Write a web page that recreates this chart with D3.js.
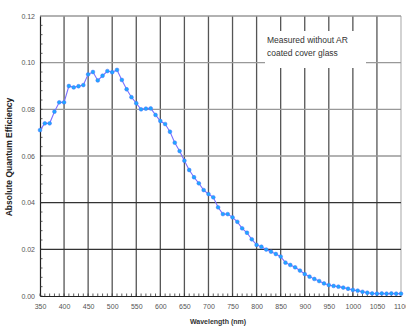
<!DOCTYPE html>
<html>
<head>
<meta charset="utf-8">
<script src="https://cdn.jsdelivr.net/npm/d3@7"></script>
<style>
  body { margin: 0; background: #fff; }
  svg { font-family: "Liberation Sans", Arial, sans-serif; }
</style>
</head>
<body>
<svg width="406" height="327"></svg>
<script>
const svg = d3.select('svg');

// wavelength (nm) every 10 nm, 350..1100
const wavelengths = d3.range(350, 1101, 10);
const efficiency = [
  0.0711, 0.0740, 0.0740, 0.0790, 0.0830, 0.0830, 0.0900, 0.0894, 0.0899, 0.0904,
  0.0950, 0.0960, 0.0924, 0.0944, 0.0964, 0.0959, 0.0969, 0.0926, 0.0886, 0.0852,
  0.0826, 0.0800, 0.0803, 0.0804, 0.0776, 0.0750, 0.0737, 0.0704, 0.0657, 0.0621,
  0.0580, 0.0540, 0.0509, 0.0483, 0.0454, 0.0437, 0.0423, 0.0380, 0.0351, 0.0351,
  0.0337, 0.0318, 0.0290, 0.0271, 0.0243, 0.0219, 0.0211, 0.0199, 0.0190, 0.0180,
  0.0169, 0.0143, 0.0133, 0.0123, 0.0109, 0.0094, 0.0083, 0.0073, 0.0064, 0.0054,
  0.0047, 0.0043, 0.0040, 0.0036, 0.0031, 0.0026, 0.0023, 0.0018, 0.0014, 0.0011,
  0.0010, 0.0011, 0.0010, 0.0011, 0.0010, 0.0010
];
const xTicks = d3.range(350, 1101, 50);
const yTicks = [0, 0.02, 0.04, 0.06, 0.08, 0.10, 0.12];
const noteLines = ['Measured without AR', 'coated cover glass'];

const data = wavelengths.map((w, i) => ({ w: w, v: efficiency[i] }));

const margin = { top: 16, right: 5, bottom: 31, left: 40 };
const innerWidth = 406 - margin.left - margin.right;
const innerHeight = 327 - margin.top - margin.bottom;

const xScale = d3.scaleLinear().domain([350, 1100]).range([0, innerWidth]);
const yScale = d3.scaleLinear().domain([0, 0.12]).range([innerHeight, 0]);

const g = svg.append('g')
  .attr('transform', `translate(${margin.left},${margin.top})`);

// grid
g.selectAll('.vgrid').data(xTicks.slice(1)).enter().append('line')
  .attr('x1', d => xScale(d)).attr('x2', d => xScale(d))
  .attr('y1', 0).attr('y2', innerHeight)
  .attr('stroke', d => d === 1100 ? '#bbb' : '#555')
  .attr('stroke-width', 1.3);
g.selectAll('.hgrid').data(yTicks.slice(1)).enter().append('line')
  .attr('x1', 0).attr('x2', innerWidth)
  .attr('y1', d => yScale(d)).attr('y2', d => yScale(d))
  .attr('stroke', d => (d === 0.02 || d === 0.04) ? '#333' : '#999')
  .attr('stroke-width', 1.3);

// note box
const note = g.append('g');
note.append('rect')
  .attr('x', 225).attr('y', 15).attr('width', 101).attr('height', 37)
  .attr('fill', '#fff');
note.selectAll('text').data(noteLines).enter().append('text')
  .attr('x', 227).attr('y', (d, i) => 27 + i * 13)
  .attr('font-size', 8.5).attr('fill', '#333')
  .text(d => d);

// axes
const xAxis = d3.axisBottom(xScale).tickValues(xTicks).tickSize(0).tickPadding(8)
  .tickFormat(d3.format('d'));
const xAxisG = g.append('g').attr('transform', `translate(0,${innerHeight})`).call(xAxis);
xAxisG.select('.domain').attr('stroke', '#222').attr('stroke-width', 1.2);
xAxisG.selectAll('text').attr('font-size', 7).attr('fill', '#555')
  .attr('font-family', '"Liberation Sans", Arial, sans-serif');

const yAxis = d3.axisLeft(yScale).tickValues(yTicks).tickSize(0).tickPadding(5)
  .tickFormat(d3.format('.2f'));
const yAxisG = g.append('g').call(yAxis);
yAxisG.select('.domain').attr('stroke', '#222').attr('stroke-width', 1.2);
yAxisG.selectAll('text').attr('font-size', 7).attr('fill', '#555')
  .attr('font-family', '"Liberation Sans", Arial, sans-serif');

// minor ticks, pointing inward
g.selectAll('.xminor').data(d3.range(350, 1100, 10)).enter().append('line')
  .attr('x1', d => xScale(d)).attr('x2', d => xScale(d))
  .attr('y1', innerHeight).attr('y2', innerHeight - 2.5)
  .attr('stroke', '#333').attr('stroke-width', 0.8);
g.selectAll('.yminor').data(d3.range(0, 0.12, 0.004)).enter().append('line')
  .attr('x1', 0).attr('x2', 2.5)
  .attr('y1', d => yScale(d)).attr('y2', d => yScale(d))
  .attr('stroke', '#333').attr('stroke-width', 0.8);

// series
const line = d3.line().x(d => xScale(d.w)).y(d => yScale(d.v));
g.append('path').datum(data)
  .attr('d', line)
  .attr('fill', 'none')
  .attr('stroke', '#7a70ff')
  .attr('stroke-width', 1.1);
g.selectAll('.pt').data(data).enter().append('circle')
  .attr('cx', d => xScale(d.w)).attr('cy', d => yScale(d.v))
  .attr('r', 1.9)
  .attr('fill', '#1fa8ff')
  .attr('stroke', '#4a6cff').attr('stroke-width', 0.5);

// axis titles
svg.append('text')
  .attr('x', 218).attr('y', 324)
  .attr('text-anchor', 'middle')
  .attr('font-size', 7).attr('font-weight', 'bold').attr('fill', '#333')
  .text('Wavelength (nm)');
svg.append('text')
  .attr('transform', 'translate(12,157) rotate(-90)')
  .attr('text-anchor', 'middle')
  .attr('font-size', 8.5).attr('font-weight', 'bold').attr('fill', '#222')
  .text('Absolute Quantum Efficiency');
</script>
</body>
</html>
